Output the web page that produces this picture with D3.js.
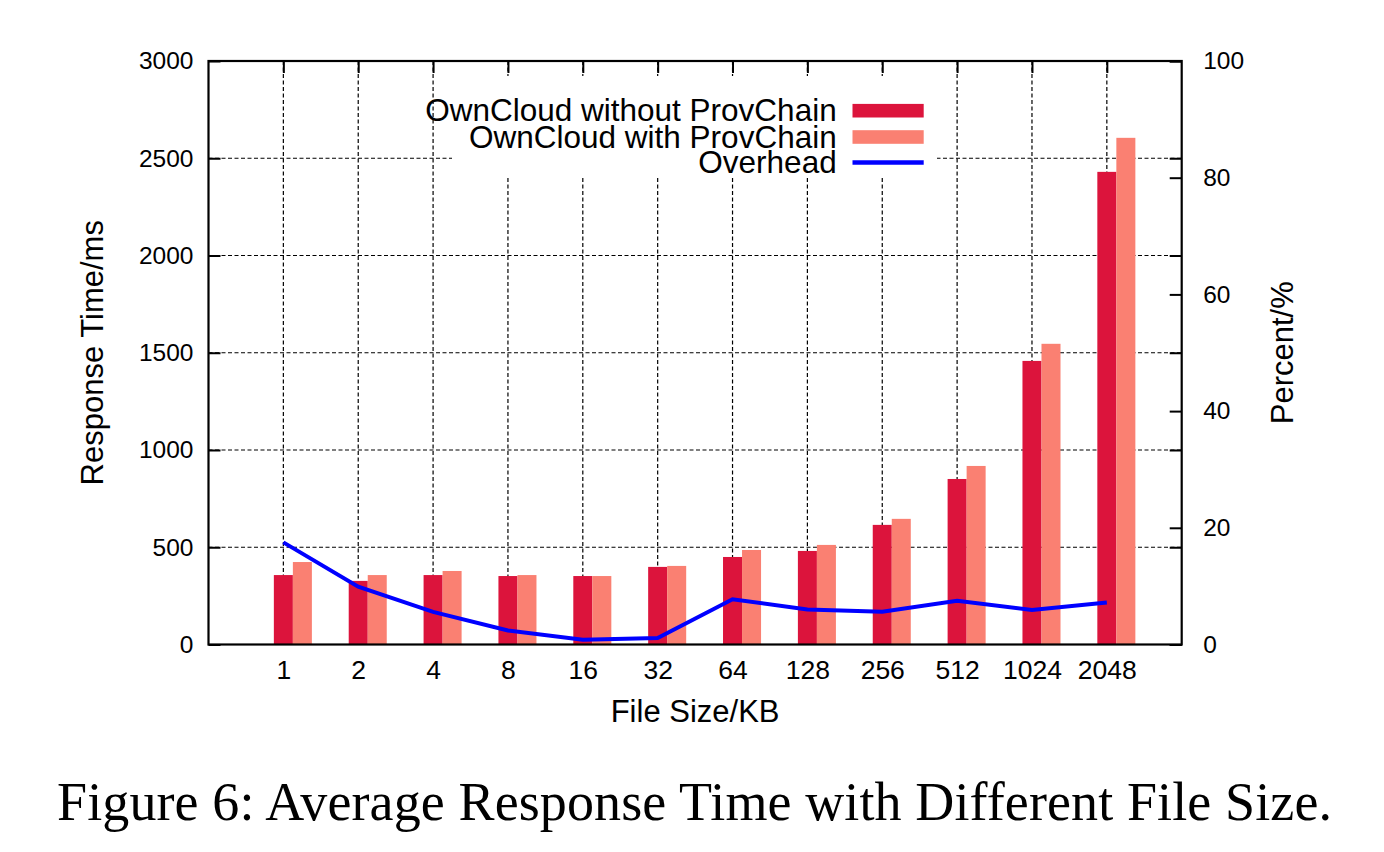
<!DOCTYPE html>
<html>
<head>
<meta charset="utf-8">
<script src="https://cdn.jsdelivr.net/npm/d3@7/dist/d3.min.js"></script>
<style>
  html, body { margin: 0; padding: 0; background: #fff; }
  svg { display: block; }
</style>
</head>
<body>
<svg id="chart" width="1384" height="852"></svg>
<script>
// ---- data ----
const categories = ["1", "2", "4", "8", "16", "32", "64", "128", "256", "512", "1024", "2048"];
const withoutProvChain = [357, 327, 357, 352, 352, 399, 450, 481, 615, 851, 1458, 2430];
const withProvChain = [424, 357, 378, 357, 352, 404, 486, 512, 646, 918, 1546, 2605];
const overheadPercent = [17.5, 9.9, 5.6, 2.4, 0.8, 1.1, 7.75, 6.0, 5.6, 7.5, 5.9, 7.2];
const yTicks = [0, 500, 1000, 1500, 2000, 2500, 3000];
const y2Ticks = [0, 20, 40, 60, 80, 100];
const seriesNames = ["OwnCloud without ProvChain", "OwnCloud with ProvChain", "Overhead"];
const captionText = "Figure 6: Average Response Time with Different File Size.";

// ---- layout ----
const L = 208.5, R = 1181.7, T = 61, B = 644.5;
const sans = "'Liberation Sans', Arial, Helvetica, sans-serif";
const serif = "'Liberation Serif', 'Times New Roman', serif";
const cDark = "#DC143C", cLight = "#FA8072", cLine = "#0000FF";

const svg = d3.select("#chart");
svg.append("rect").attr("width", 1384).attr("height", 852).attr("fill", "#fff");

const x = d3.scalePoint().domain(categories).range([L, R]).padding(1);
const y = d3.scaleLinear().domain([0, 3000]).range([B, T]);
const y2 = d3.scaleLinear().domain([0, 100]).range([B, T]);
const bw = x.step() * 0.254;

// grid
const grid = svg.append("g").attr("stroke", "#000").attr("stroke-width", 1.2)
  .attr("stroke-dasharray", "4,2.5").attr("fill", "none");
grid.selectAll("line.v").data(categories).join("line").attr("class", "v")
  .attr("x1", d => x(d)).attr("x2", d => x(d)).attr("y1", T).attr("y2", B);
grid.selectAll("line.h").data(yTicks.slice(1, -1)).join("line").attr("class", "h")
  .attr("x1", L).attr("x2", R).attr("y1", d => y(d)).attr("y2", d => y(d));

// legend background (opaque key)
svg.append("rect").attr("x", 452).attr("y", 76).attr("width", 485).attr("height", 100).attr("fill", "#fff");

// bars
const rows = categories.map((c, i) => ({ c, a: withoutProvChain[i], b: withProvChain[i], o: overheadPercent[i] }));
svg.append("g").selectAll("rect").data(rows).join("rect")
  .attr("x", d => x(d.c) - bw / 2).attr("width", bw)
  .attr("y", d => y(d.a)).attr("height", d => B - y(d.a)).attr("fill", cDark);
svg.append("g").selectAll("rect").data(rows).join("rect")
  .attr("x", d => x(d.c) + bw / 2).attr("width", bw)
  .attr("y", d => y(d.b)).attr("height", d => B - y(d.b)).attr("fill", cLight);

// overhead line
svg.append("path").datum(rows)
  .attr("d", d3.line().x(d => x(d.c)).y(d => y2(d.o)))
  .attr("fill", "none").attr("stroke", cLine).attr("stroke-width", 4).attr("stroke-linejoin", "miter");

// axes
function style(g, fs) {
  g.select(".domain").remove();
  g.selectAll(".tick line").attr("stroke", "#000").attr("stroke-width", 2);
  g.selectAll(".tick text").attr("font-family", sans).attr("font-size", fs).attr("fill", "#000");
}
const fmt = d3.format("d");
svg.append("g").attr("transform", `translate(${L},0)`)
  .call(d3.axisLeft(y).tickValues(yTicks).tickFormat(fmt).tickSize(-12).tickPadding(15)).call(g => style(g, 24.5));
svg.append("g").attr("transform", `translate(${R},0)`)
  .call(d3.axisRight(y).tickValues(yTicks).tickSize(-12).tickFormat("")).call(g => style(g, 24));
svg.append("g").attr("transform", `translate(${R},0)`)
  .call(d3.axisRight(y2).tickValues(y2Ticks).tickFormat(fmt).tickSize(-12).tickPadding(21.5)).call(g => style(g, 24.5));
svg.append("g").attr("transform", `translate(0,${B})`)
  .call(d3.axisBottom(x).tickSize(0).tickPadding(16)).call(g => style(g, 26.5));
svg.append("g").attr("transform", `translate(0,${T})`)
  .call(d3.axisTop(x).tickSize(-12).tickFormat("")).call(g => style(g, 24));

// border
svg.append("rect").attr("x", L).attr("y", T).attr("width", R - L).attr("height", B - T)
  .attr("fill", "none").attr("stroke", "#000").attr("stroke-width", 2.2);

// axis titles
svg.append("text").attr("transform", `translate(103,${(T + B) / 2}) rotate(-90)`)
  .attr("text-anchor", "middle").attr("font-family", sans).attr("font-size", 31).text("Response Time/ms");
svg.append("text").attr("transform", `translate(1293,${(T + B) / 2}) rotate(-90)`)
  .attr("text-anchor", "middle").attr("font-family", sans).attr("font-size", 31).text("Percent/%");
svg.append("text").attr("x", (L + R) / 2).attr("y", 722)
  .attr("text-anchor", "middle").attr("font-family", sans).attr("font-size", 31).text("File Size/KB");

// legend
const leg = svg.append("g");
const legY = [110.7, 137, 162.6];
leg.selectAll("text").data(seriesNames).join("text")
  .attr("x", 836.7).attr("y", (d, i) => legY[i] + 10.5)
  .attr("text-anchor", "end").attr("font-family", sans).attr("font-size", 31.5).text(d => d);
leg.append("rect").attr("x", 852.5).attr("y", legY[0] - 6.8).attr("width", 71.2).attr("height", 13.6).attr("fill", cDark);
leg.append("rect").attr("x", 852.5).attr("y", legY[1] - 6.8).attr("width", 71.2).attr("height", 13.6).attr("fill", cLight);
leg.append("line").attr("x1", 852.5).attr("x2", 923.7).attr("y1", legY[2]).attr("y2", legY[2])
  .attr("stroke", cLine).attr("stroke-width", 4.5);

// caption
svg.append("text").attr("x", 57).attr("y", 820).attr("font-family", serif).attr("font-size", 54)
  .attr("textLength", 1275).attr("lengthAdjust", "spacing").text(captionText);
</script>
</body>
</html>
